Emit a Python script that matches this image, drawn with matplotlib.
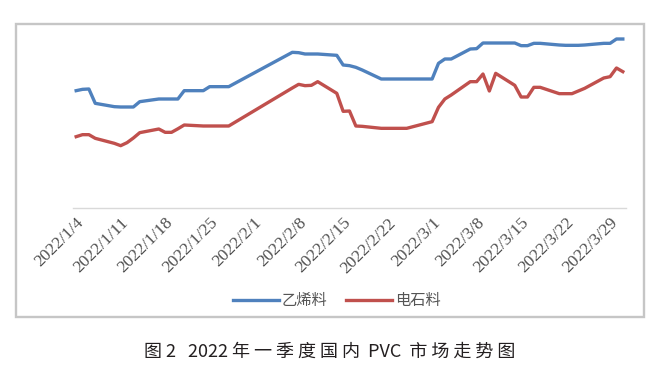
import numpy as np
import pandas as pd
import matplotlib.pyplot as plt
from matplotlib.patches import Rectangle

plt.rcParams['font.family'] = ['Noto Sans CJK SC', 'DejaVu Sans']
plt.rcParams['font.serif'] = ['Liberation Serif', 'Tinos', 'TeX Gyre Termes', 'DejaVu Serif']

# trading days, Q1 2022
fechas = pd.to_datetime([
    '2022-01-04', '2022-01-05', '2022-01-06', '2022-01-07',
    '2022-01-10', '2022-01-11', '2022-01-12', '2022-01-13', '2022-01-14',
    '2022-01-17', '2022-01-18', '2022-01-19', '2022-01-20', '2022-01-21',
    '2022-01-24', '2022-01-25', '2022-01-26', '2022-01-27', '2022-01-28',
    '2022-02-07', '2022-02-08', '2022-02-09', '2022-02-10', '2022-02-11',
    '2022-02-14', '2022-02-15', '2022-02-16', '2022-02-17', '2022-02-18',
    '2022-02-21', '2022-02-22', '2022-02-23', '2022-02-24', '2022-02-25',
    '2022-02-28', '2022-03-01', '2022-03-02', '2022-03-03', '2022-03-04',
    '2022-03-07', '2022-03-08', '2022-03-09', '2022-03-10', '2022-03-11',
    '2022-03-14', '2022-03-15', '2022-03-16', '2022-03-17', '2022-03-18',
    '2022-03-21', '2022-03-22', '2022-03-23', '2022-03-24', '2022-03-25',
    '2022-03-28', '2022-03-29', '2022-03-30', '2022-03-31',
])

yixi = [
    9440, 9460, 9465, 9250,
    9200, 9195, 9195, 9195, 9275,
    9315, 9315, 9315, 9315, 9440,
    9440, 9500, 9500, 9500, 9500,
    10015, 10010, 9990, 9990, 9990,
    9970, 9825, 9815, 9790, 9750,
    9615, 9615, 9615, 9615, 9615,
    9615, 9615, 9850, 9915, 9915,
    10065, 10070, 10155, 10155, 10155,
    10155, 10115, 10115, 10150, 10150,
    10125, 10120, 10120, 10120, 10125,
    10150, 10150, 10215, 10215,
]

dianshi = [
    8750, 8780, 8780, 8725,
    8650, 8615, 8660, 8730, 8810,
    8865, 8815, 8815, 8868, 8925,
    8910, 8910, 8910, 8910, 8910,
    9480, 9535, 9515, 9520, 9575,
    9400, 9130, 9135, 8910, 8905,
    8875, 8875, 8875, 8875, 8875,
    8950, 8975, 9190, 9315, 9375,
    9575, 9575, 9690, 9435, 9700,
    9520, 9345, 9345, 9490, 9490,
    9395, 9395, 9395, 9435, 9475,
    9630, 9650, 9780, 9725,
]

W, H = 666, 385
fig = plt.figure(figsize=(W / 100, H / 100), dpi=100)

# marco del grafico
fig.patches.append(Rectangle((16 / W, (H - 317) / H), 628 / W, 293 / H,
                             transform=fig.transFigure, fill=False,
                             edgecolor='#c6c6c6', linewidth=1.7))

ax = fig.add_axes([73 / W, (H - 208) / H, 553 / W, 178 / H])
ax.set_facecolor('none')
ax.plot(fechas, yixi, color='#4F81BD', lw=2.4, label='乙烯料', solid_joinstyle='round')
ax.plot(fechas, dianshi, color='#C0504D', lw=2.4, label='电石料', solid_joinstyle='round')

ax.set_xlim(pd.Timestamp('2022-01-03 12:00'), pd.Timestamp('2022-03-31 12:00'))
ax.set_ylim(7680, 10350)
ticks = pd.date_range('2022-01-04', '2022-03-29', freq='7D')
ax.set_xticks(ticks)
ax.set_xticklabels([f'{d.year}/{d.month}/{d.day}' for d in ticks],
                   family='serif', fontsize=12.5, color='#505050',
                   rotation=45, ha='right', rotation_mode='anchor')
ax.tick_params(axis='x', length=0, pad=5)
ax.set_yticks([])
for s in ['top', 'right', 'left']:
    ax.spines[s].set_visible(False)
ax.spines['bottom'].set_color('#d9d9d9')
ax.spines['bottom'].set_linewidth(1.0)

leg = fig.legend(loc='center', bbox_to_anchor=(337 / W, (H - 301) / H), ncol=2,
                 frameon=False, fontsize=11, handlelength=3.0, handletextpad=0.2,
                 columnspacing=1.2)
for t in leg.get_texts():
    t.set_color('#555555')

fig.text(330 / W, (H - 352) / H, '图 2   2022 年 一 季 度 国 内  PVC  市 场 走 势 图',
         ha='center', va='center', fontsize=13, color='#231f20')

fig.savefig('out.png', dpi=100)
